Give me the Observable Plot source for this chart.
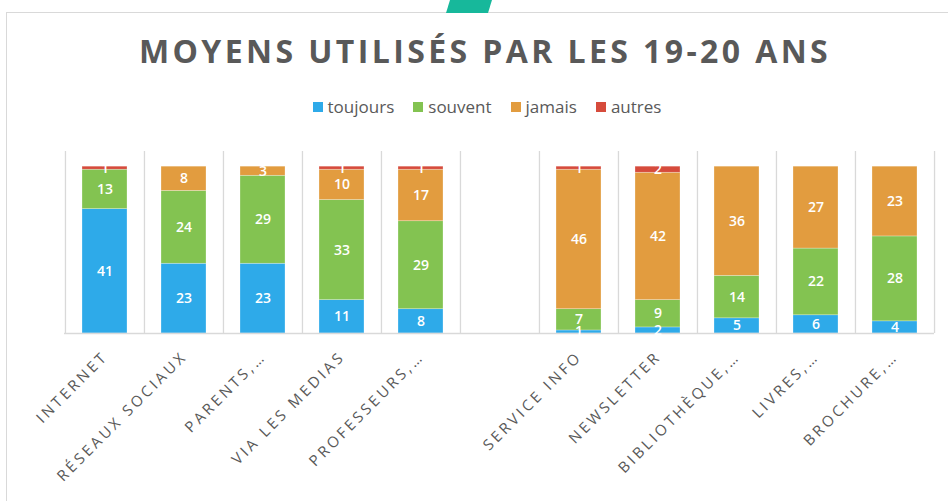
<!DOCTYPE html>
<html>
<head>
<meta charset="utf-8">
<script src="https://cdn.jsdelivr.net/npm/d3@7"></script>
<script src="https://cdn.jsdelivr.net/npm/@observablehq/plot@0.6"></script>
<style>
  html, body { margin: 0; padding: 0; background: #fff; }
  #page { position: relative; width: 948px; height: 501px; overflow: hidden; font-family: "Open Sans", sans-serif; }
  #box { position: absolute; left: 6px; top: 12px; width: 1000px; height: 600px; border: 1.5px solid #d9d9d9; box-sizing: border-box; }
  #tab { position: absolute; left: 446px; top: 0; width: 46px; height: 13px; background: #17b89b; clip-path: polygon(4px 0, 46px 0, 42px 13px, 0 13px); }
  #title { position: absolute; left: 1px; top: 29px; width: 968px; text-align: center; font-size: 32px; font-weight: 700; color: #595959; letter-spacing: 3.4px; line-height: normal; }
  #legend { position: absolute; left: 0; top: 95px; width: 974px; display: flex; justify-content: center; gap: 19px; font-size: 17px; color: #595959; line-height: normal; }
  #legend span.item { display: flex; align-items: center; gap: 5px; }
  #legend span.sw { display: inline-block; width: 10px; height: 10px; }
  #chart { position: absolute; left: 0; top: 140px; }
</style>
</head>
<body>
<div id="page">
  <div id="box"></div>
  <div id="tab"></div>
  <div id="title">MOYENS UTILISÉS PAR LES 19-20 ANS</div>
  <div id="legend"></div>
  <div id="chart"></div>
</div>
<script>
const categories = ["INTERNET", "RÉSEAUX SOCIAUX", "PARENTS,…", "VIA LES MEDIAS", "PROFESSEURS,…", " ", "SERVICE INFO", "NEWSLETTER", "BIBLIOTHÈQUE,…", "LIVRES,…", "BROCHURE,…"];
const seriesNames = ["toujours", "souvent", "jamais", "autres"];
const seriesColors = ["#2eaae9", "#83c351", "#e29c3f", "#d64b3c"];
const toujours = [41, 23, 23, 11, 8, null, 1, 2, 5, 6, 4];
const souvent  = [13, 24, 29, 33, 29, null, 7, 9, 14, 22, 28];
const jamais   = [0, 8, 3, 10, 17, null, 46, 42, 36, 27, 23];
const autres   = [1, 0, 0, 1, 1, null, 1, 2, 0, 0, 0];

const seriesValues = [toujours, souvent, jamais, autres];
const data = [];
categories.forEach((c, i) => {
  seriesNames.forEach((s, j) => {
    const v = seriesValues[j][i];
    if (v) data.push({cat: c, series: s, value: v});
  });
});

// legend
const legend = document.getElementById("legend");
seriesNames.forEach((s, j) => {
  const it = document.createElement("span");
  it.className = "item";
  it.innerHTML = `<span class="sw" style="background:${seriesColors[j]}"></span><span>${s}</span>`;
  legend.appendChild(it);
});

const W = 948, H = 361, mL = 64, mR = 14, mT = 11, mB = 168;
const bw = (W - mL - mR) / categories.length;

const chart = Plot.plot({
  width: W, height: H,
  marginTop: mT, marginBottom: mB, marginLeft: mL, marginRight: mR,
  style: {fontFamily: "Open Sans, sans-serif", background: "transparent"},
  x: {domain: categories, padding: 0, axis: null},
  y: {domain: [0, 60], axis: null},
  color: {domain: seriesNames, range: seriesColors},
  marks: [
    Plot.ruleX(categories, {x: d => d, y1: 0, y2: 60, dx: -bw / 2, stroke: "#d9d9d9", strokeWidth: 1.3}),
    Plot.ruleX(categories.slice(-1), {x: d => d, y1: 0, y2: 60, dx: bw / 2, stroke: "#d9d9d9", strokeWidth: 1.3}),
    Plot.barY(data, {x: "cat", y: "value", z: "series", fill: "series", insetLeft: 17, insetRight: 17, stroke: "#ffffff", strokeOpacity: 0.45, strokeWidth: 0.6}),
    Plot.ruleY([0], {stroke: "#d9d9d9", strokeWidth: 1.5}),
    Plot.text(data, Plot.stackY({x: "cat", y: "value", z: "series", text: d => String(d.value), fill: "white", fontSize: 14, fontWeight: 600})),
    Plot.text(categories.filter(c => c.trim() !== ""), {x: d => d, text: d => d, frameAnchor: "bottom", dx: 4, dy: 24, rotate: -45, textAnchor: "end", fill: "#595959", fontSize: 15, className: "xlab"})
  ]
});
chart.querySelectorAll("g.xlab text").forEach(t => t.setAttribute("letter-spacing", "3.1"));
document.getElementById("chart").appendChild(chart);
</script>
</body>
</html>
